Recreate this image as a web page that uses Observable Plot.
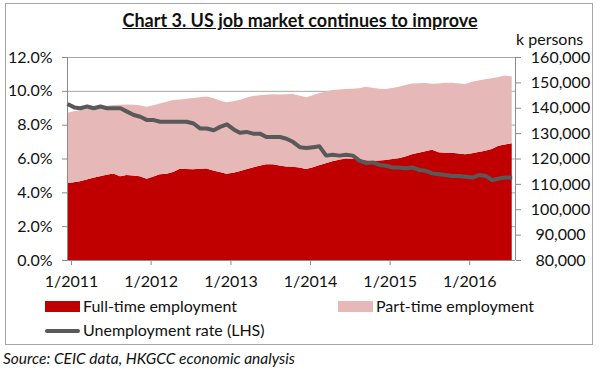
<!DOCTYPE html>
<html>
<head>
<meta charset="utf-8">
<script src="https://cdn.jsdelivr.net/npm/d3@7"></script>
<script src="https://cdn.jsdelivr.net/npm/@observablehq/plot@0.6"></script>
<style>
  html, body { margin: 0; padding: 0; background: #fff; }
  #wrap { position: relative; width: 600px; height: 379px; font-family: Lato, "Open Sans", sans-serif; color: #111; overflow: hidden; }
  #frame { position: absolute; left: 5px; top: 3px; width: 588px; height: 342px; border: 1px solid #a6a6a6; box-sizing: border-box; }
  #title { position: absolute; left: 0; width: 600px; top: 9px; text-align: center; font-weight: bold; font-size: 18px; text-decoration: underline; white-space: nowrap; }
  #unit { position: absolute; left: 516px; top: 31px; font-size: 16px; line-height: 15px; white-space: nowrap; }
  #chart { position: absolute; left: 0; top: 40px; }
  .leg { position: absolute; font-size: 16px; white-space: nowrap; line-height: 18px; }
  .sw { position: absolute; }
  #source { position: absolute; left: 3px; top: 349px; font-style: italic; font-size: 15.5px; line-height: 18px; white-space: nowrap; }
</style>
</head>
<body>
<div id="wrap">
  <div id="frame"></div>
  <div id="title"></div>
  <div id="unit"></div>
  <div id="chart"></div>
  <div id="legend"></div>
  <div id="source"></div>
</div>
<script>
// ---- Data ----
const titleText = "Chart 3. US job market continues to improve";
const unitText = "k persons";
const sourceText = "Source: CEIC data, HKGCC economic analysis";
const seriesNames = ["Full-time employment", "Part-time employment", "Unemployment rate (LHS)"];
const seriesColors = ["#C00000", "#E6B9B8", "#595959"];

const startMonth = "2011-01-01";
const endMonth = "2016-08-01";

// Unemployment rate, % (left axis)
const unemployment = [
  9.25, 9.05, 9.0, 9.1, 9.0, 9.1, 9.0, 9.0, 9.0, 8.8, 8.6, 8.5,
  8.3, 8.3, 8.2, 8.2, 8.2, 8.2, 8.2, 8.1, 7.8, 7.8, 7.7, 7.9,
  8.05, 7.75, 7.55, 7.6, 7.5, 7.5, 7.3, 7.3, 7.3, 7.2, 7.0, 6.7,
  6.65, 6.7, 6.75, 6.2, 6.25, 6.2, 6.25, 6.2, 5.9, 5.75, 5.8, 5.65,
  5.6, 5.5, 5.5, 5.45, 5.5, 5.35, 5.3, 5.15, 5.1, 5.05, 5.0, 5.0,
  4.95, 4.9, 5.05, 5.0, 4.75, 4.85, 4.9, 4.9
];
// Full-time employment, k persons (right axis)
const fullTime = [
  110200, 110600, 111000, 111700, 112400, 113000, 113600, 114100, 113000, 113500, 113300, 113000,
  112000, 112900, 113800, 114000, 114700, 116000, 115900, 115800, 116000, 116100, 115300, 114700,
  114000, 114400, 115000, 115800, 116500, 117100, 117700, 117700, 117200, 116800, 116700, 116500,
  115900, 116600, 117300, 118100, 118900, 119500, 120000, 119900, 119600, 119300, 119100, 119200,
  119400, 119800, 120100, 120800, 121700, 122300, 122900, 123400, 122500, 122300, 122300, 122000,
  121700, 122100, 122600, 123100, 123700, 125000, 125500, 126000
];
// Part-time employment, k persons (stacked on full-time)
const partTime = [
  27800, 28000, 28000, 27800, 27600, 27400, 27200, 27000, 28200, 27800, 27900, 28000,
  28400, 28100, 27900, 28400, 28400, 27300, 27600, 28000, 28100, 28300, 28500, 28200,
  28200, 28200, 28100, 28100, 28100, 27800, 27400, 27600, 28000, 28500, 28700, 28300,
  28200, 28300, 28400, 28300, 28100, 27700, 27400, 27600, 28100, 29000, 28800, 28300,
  28000, 28000, 28200, 28200, 27900, 27400, 26900, 26100, 27100, 27600, 27600, 27600,
  27700, 28100, 28100, 28100, 27900, 27100, 27200, 26300
];

const pctTicks = [0, 2, 4, 6, 8, 10, 12];
const pctLabels = ["0.0%", "2.0%", "4.0%", "6.0%", "8.0%", "10.0%", "12.0%"];
const personTicks = [80000, 90000, 100000, 110000, 120000, 130000, 140000, 150000, 160000];
const yearTicks = ["2011-01-01", "2012-01-01", "2013-01-01", "2014-01-01", "2015-01-01", "2016-01-01"];
const yearLabels = ["1/2011", "1/2012", "1/2013", "1/2014", "1/2015", "1/2016"];

// ---- Build ----
const months = d3.utcMonth.range(new Date(startMonth), d3.utcMonth.offset(new Date(endMonth), 1));
const rows = months.map((date, i) => ({
  date, u: unemployment[i], full: fullTime[i], total: fullTime[i] + partTime[i]
}));

const yMin = 80000, yMax = 160000, pctMax = 12;
const pctToY = p => yMin + p / pctMax * (yMax - yMin);
const xStart = new Date(startMonth);
const xEnd = d3.utcDay.offset(new Date(endMonth), 15);
const xTickDates = yearTicks.map(d => new Date(d));

const axisColor = "#8c8c8c";
const gridColor = "#a6a6a6";

const chart = Plot.plot({
  width: 600,
  height: 260,
  marginLeft: 67,
  marginRight: 85,
  marginTop: 17,
  marginBottom: 40,
  style: { fontFamily: "Lato, 'Open Sans', sans-serif", fontSize: "16px", color: "#111", background: "transparent", overflow: "visible" },
  x: { type: "utc", domain: [xStart, xEnd] },
  y: { domain: [yMin, yMax] },
  marks: [
    Plot.ruleY(pctTicks.map(pctToY), { stroke: gridColor, strokeWidth: 1 }),
    Plot.areaY(rows, { x: "date", y1: yMin, y2: "full", fill: seriesColors[0], curve: "linear" }),
    Plot.areaY(rows, { x: "date", y1: "full", y2: "total", fill: seriesColors[1], curve: "linear" }),
    Plot.ruleX([xStart], { stroke: axisColor }),
    Plot.ruleX([xEnd], { stroke: axisColor }),
    Plot.ruleY([yMin], { stroke: axisColor }),
    Plot.lineY(rows, { x: "date", y: d => pctToY(d.u), stroke: seriesColors[2], strokeWidth: 4, strokeLinejoin: "round", strokeLinecap: "butt" }),
    Plot.axisY({
      anchor: "left", ticks: pctTicks.map(pctToY), tickSize: 5, tickPadding: 10,
      tickFormat: v => pctLabels[pctTicks.indexOf(Math.round((v - yMin) / (yMax - yMin) * pctMax))],
      stroke: axisColor, fill: "#111", label: null
    }),
    Plot.axisY({
      anchor: "right", ticks: personTicks, tickSize: 5, tickPadding: 40, textAnchor: "middle",
      tickFormat: d3.format(","), stroke: axisColor, fill: "#111", label: null
    }),
    Plot.axisX({
      ticks: xTickDates, tickSize: 5, tickPadding: 10, dx: 4,
      tickFormat: d => yearLabels[xTickDates.findIndex(t => +t === +d)],
      stroke: axisColor, fill: "#111", label: null
    })
  ]
});
document.getElementById("chart").appendChild(chart);

document.getElementById("title").textContent = titleText;
document.getElementById("unit").textContent = unitText;
document.getElementById("source").textContent = sourceText;

const legend = document.getElementById("legend");
const legItems = [
  { name: seriesNames[0], color: seriesColors[0], type: "rect", x: 45, y: 307 },
  { name: seriesNames[1], color: seriesColors[1], type: "rect", x: 338, y: 307 },
  { name: seriesNames[2], color: seriesColors[2], type: "line", x: 45, y: 331 }
];
legItems.forEach(it => {
  const sw = document.createElement("div");
  sw.className = "sw";
  sw.style.left = it.x + "px";
  sw.style.width = "35px";
  if (it.type === "rect") {
    sw.style.top = (it.y - 6) + "px"; sw.style.height = "11px";
  } else {
    sw.style.top = (it.y - 2) + "px"; sw.style.height = "4px"; sw.style.borderRadius = "2px";
  }
  sw.style.background = it.color;
  legend.appendChild(sw);
  const t = document.createElement("div");
  t.className = "leg";
  t.style.left = (it.x + 38) + "px";
  t.style.top = (it.y - 10) + "px";
  t.textContent = it.name;
  legend.appendChild(t);
});
</script>
</body>
</html>
